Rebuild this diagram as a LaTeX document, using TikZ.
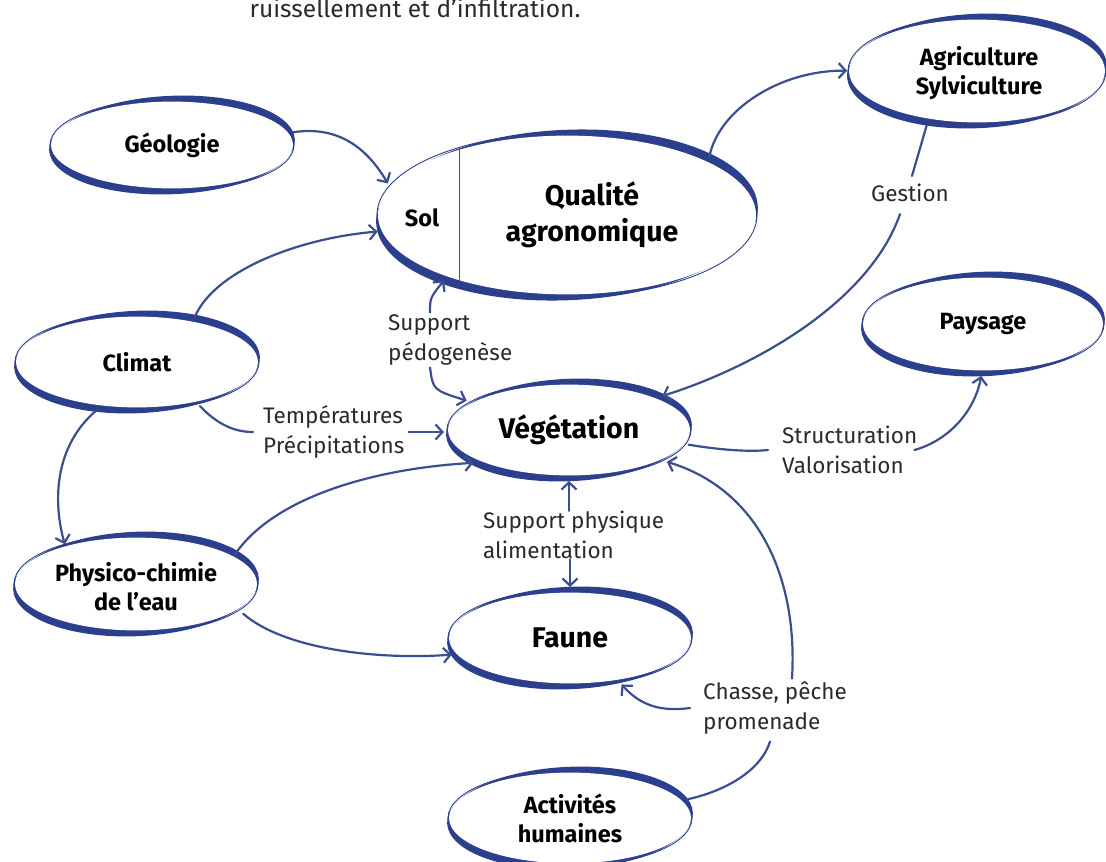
\documentclass[tikz,border=0pt]{standalone}
\usepackage{fontspec}
\setmainfont{Fira Sans}
\usetikzlibrary{arrows.meta,shapes.geometric}

\definecolor{ink}{HTML}{2B3F8C}
\definecolor{wire}{HTML}{3A4F8E}
\definecolor{txt}{HTML}{2A2A2A}

% brush-like ellipse outline: thick at top and bottom, thin at the ends
\newcommand\penring[3]{%
  \fill[ink, rotate around={2.5:#1}] #1 ellipse ({#2+1.0} and {#3+3.2});
  \fill[white] #1 ellipse ({#2-1.0} and {#3-2.6});
  \draw[ink, line width=0.9pt] #1 ellipse ({#2} and {#3});
}

\tikzset{
  ring/.style={ellipse, inner sep=0pt, outer sep=3pt, align=center,
    text=black, font=\bfseries\fontsize{23.5}{29}\selectfont},
  bigtext/.style={font=\bfseries\fontsize{28.5}{36}\selectfont},
  note/.style={align=left, inner sep=0pt, text=txt,
    font=\fontsize{22.5}{30}\selectfont},
  link/.style={draw=wire, line width=2.2pt, line cap=round, line join=round},
  arr/.style={link, -{Straight Barb[length=7pt,width=15pt]}},
}

\begin{document}
\begin{tikzpicture}[x=1pt, y=-1pt]
\fill[white] (0,0) rectangle (1106,862);
\useasboundingbox (0,0) rectangle (1106,862);

% ellipse outlines
\penring{(172,145)}{122}{46}
\penring{(567,215)}{190}{82}
\penring{(977,71)}{129}{54}
\penring{(137,362)}{122}{48}
\penring{(983,324)}{121}{49}
\penring{(569,430)}{122}{48}
\penring{(136,584)}{122}{49}
\penring{(570,638)}{122}{48}
\penring{(570,818)}{122}{48}

% divider inside the soil ellipse
\draw[ink!70!gray, line width=0.7pt] (459,148) -- (459,282);

% nodes
\node[ring, minimum width=244pt, minimum height=92pt] (geo) at (172,145) {Géologie};
\node[ring, minimum width=380pt, minimum height=164pt] (sol) at (567,215) {};
\node[ring] (soltxt) at (422,218) {Sol};
\node[ring, bigtext] (qual) at (592,215) {Qualité\\agronomique};
\node[ring, minimum width=258pt, minimum height=108pt] (agri) at (979,73) {Agriculture\\Sylviculture};
\node[ring, minimum width=244pt, minimum height=96pt] (clim) at (137,362) {Climat};
\node[ring, minimum width=242pt, minimum height=98pt] (pays) at (983,324) {Paysage};
\node[ring, bigtext, minimum width=244pt, minimum height=96pt] (veg) at (569,430) {Végétation};
\node[ring, minimum width=244pt, minimum height=98pt] (phys) at (136,587) {Physico-chimie\\de l’eau};
\node[ring, bigtext, minimum width=244pt, minimum height=96pt] (faune) at (570,638) {Faune};
\node[ring, minimum width=244pt, minimum height=96pt] (act) at (570,818) {Activités\\humaines};

% labels
\node[note, anchor=base, font=\fontsize{24.5}{30}\selectfont] (top) at (415,17) {ruissellement et d’infiltration.};
\node[note, anchor=west] (temp) at (263,432) {Températures\\Précipitations};
\node[note, anchor=west] (pedo) at (388,340) {Support\\pédogenèse};
\node[note] (gest) at (910,193) {Gestion};
\node[note, anchor=west] (struct) at (782,450) {Structuration\\Valorisation};
\node[note, anchor=west] (sp) at (483,535) {Support physique\\alimentation};
\node[note, anchor=west] (chasse) at (703,708) {Chasse, pêche\\promenade};

% connectors
\draw[arr] (geo.6) .. controls (340,125) and (368,150) .. (sol.170);
\draw[arr] (clim.38) .. controls (215,270) and (300,238) .. (sol.185);
\draw[link] (clim.-35) .. controls (218,425) and (235,432) .. ([xshift=-10pt]temp.west);
\draw[arr] ([xshift=4pt]temp.east) -- (temp.east -| veg.west);
\draw[arr] (clim.230) .. controls (50,450) and (55,510) .. (phys.149);
\draw[arr] (phys.18) .. controls (275,495) and (380,468) .. (veg.199);
\draw[arr] (phys.-14) .. controls (285,650) and (380,660) .. (faune.188);
\draw[arr] ([xshift=42pt,yshift=2pt]pedo.north west) .. controls (430,298) .. (sol.208);
\draw[arr] ([xshift=42pt,yshift=-2pt]pedo.south west) .. controls (433,390) .. (veg.164);
\draw[arr] (sol.22) .. controls (718,110) and (780,70) .. (agri.179);
\draw[link] (agri.225) .. controls (920,150) .. ([xshift=2pt,yshift=8pt]gest.north);
\draw[arr] ([xshift=-10pt,yshift=-12pt]gest.south) .. controls (870,300) and (760,365) .. (veg.20);
\draw[link] (veg.-7) .. controls (720,450) and (750,452) .. ([xshift=-14pt]struct.west);
\draw[arr] ([xshift=-3pt]struct.east) .. controls (950,440) and (975,410) .. (pays.-92);
\draw[arr] (sp.north -| veg.south) -- (veg.south);
\draw[arr] (sp.south -| faune.north) -- (faune.north);
\draw[arr] ([xshift=-13pt]chasse.west) .. controls (660,712) and (640,705) .. (faune.-42);
\draw[link] (act.9) .. controls (730,790) and (762,768) .. ([xshift=67pt,yshift=-7pt]chasse.south west);
\draw[arr] ([xshift=89pt,yshift=3pt]chasse.north west) .. controls (798,580) and (760,490) .. (veg.-18);
\end{tikzpicture}
\end{document}
